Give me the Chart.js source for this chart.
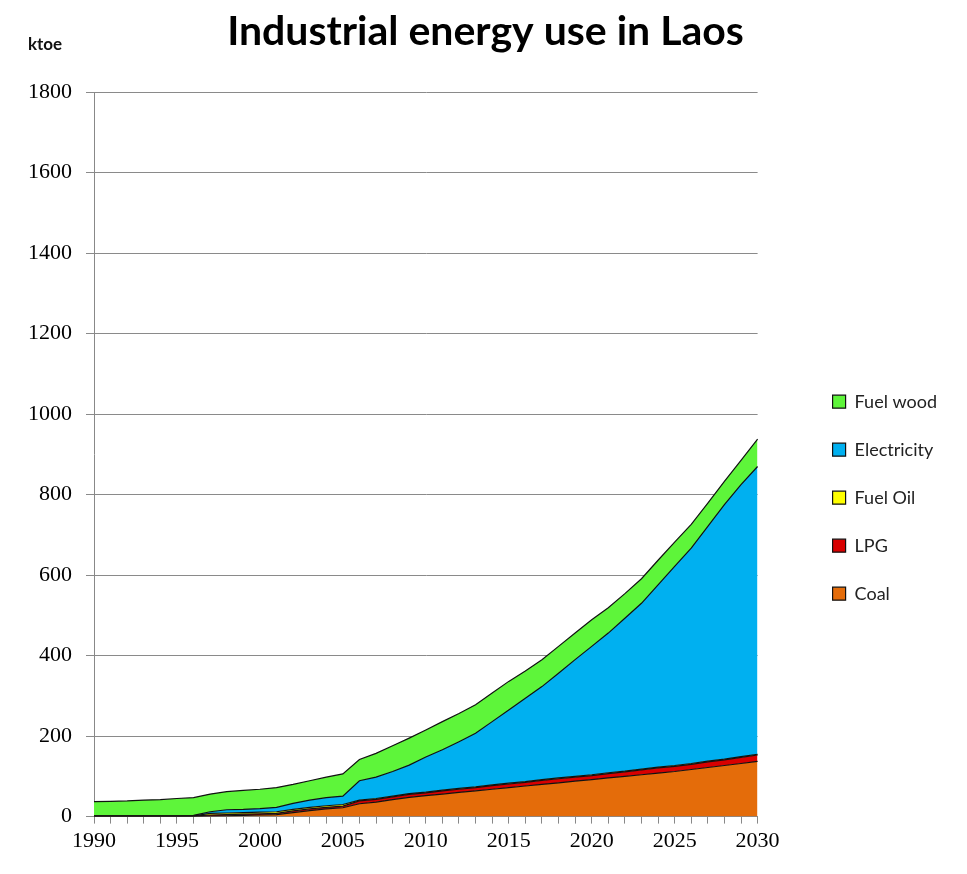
<!DOCTYPE html>
<html>
<head>
<meta charset="utf-8">
<script src="https://cdn.jsdelivr.net/npm/chart.js@4"></script>
<style>
  html, body { margin: 0; padding: 0; background: #fff; }
  #wrap { width: 967px; height: 874px; }
</style>
</head>
<body>
<div id="wrap"><canvas id="myChart" width="967" height="874"></canvas></div>
<script>
const years = [
  "1990", "1991", "1992", "1993", "1994", "1995", "1996", "1997", "1998", "1999",
  "2000", "2001", "2002", "2003", "2004", "2005", "2006", "2007", "2008", "2009",
  "2010", "2011", "2012", "2013", "2014", "2015", "2016", "2017", "2018", "2019",
  "2020", "2021", "2022", "2023", "2024", "2025", "2026", "2027", "2028", "2029", "2030",
];

// ktoe
const coal = [0, 0, 0, 0, 0, 0, 0, 1, 2, 3, 4, 5, 10, 15, 19, 22, 32, 36, 42, 48, 52,
  56, 60, 64, 68, 72, 76, 80, 84, 88, 92, 96, 100, 104, 108, 112, 117, 122, 127, 132, 137];
const lpg = [1, 1, 1, 1, 1, 1, 1, 3, 3, 3, 3, 3, 4, 4, 4, 4, 7, 7, 7, 7, 7,
  8, 8, 8, 9, 9, 9, 10, 10, 10, 10, 11, 11, 12, 13, 13, 13, 14, 14, 15, 16];
const fuelOil = [1, 1, 1, 1, 1, 1, 1, 4, 4, 4, 4, 4, 4, 4, 4, 4, 2, 2, 2, 2, 2,
  2, 2, 2, 2, 2, 2, 2, 2, 2, 2, 2, 2, 2, 2, 2, 2, 2, 2, 2, 2];
const electricity = [0, 0, 0, 0, 0, 0, 1, 4, 8, 8, 9, 11, 15, 18, 20, 21, 48, 53, 61, 71, 87,
  100, 116, 133, 157, 182, 207, 231, 260, 290, 319, 347, 380, 412, 453, 495, 535, 583, 632, 676, 715];
const fuelWood = [35, 36, 37, 39, 40, 43, 44, 44, 45, 47, 48, 49, 47, 48, 51, 55, 53, 59, 64, 67, 67,
  70, 70, 71, 71, 71, 68, 67, 67, 66, 66, 63, 61, 61, 61, 60, 59, 58, 58, 60, 68];

const yTicks = [0, 200, 400, 600, 800, 1000, 1200, 1400, 1600, 1800];

const series = [
  { label: "Coal", data: coal, color: "#e46c0a" },
  { label: "LPG", data: lpg, color: "#d80000" },
  { label: "Fuel Oil", data: fuelOil, color: "#ffff00" },
  { label: "Electricity", data: electricity, color: "#00b0f0" },
  { label: "Fuel wood", data: fuelWood, color: "#5ef53a" },
];

const tickFont = { family: "'Liberation Serif', serif", size: 22 };

// unit label above the y axis
const unitLabel = {
  id: "unitLabel",
  afterDraw(chart) {
    const ctx = chart.ctx;
    ctx.save();
    ctx.font = "bold 17px Lato, sans-serif";
    ctx.fillStyle = "#111";
    ctx.textAlign = "center";
    ctx.textBaseline = "middle";
    ctx.fillText("ktoe", 45, chart.chartArea.top - 48);
    ctx.restore();
  },
};

const data = {
  labels: years,
  datasets: series.map((s, i) => ({
    label: s.label,
    data: s.data,
    backgroundColor: s.color,
    borderColor: "#111",
    borderWidth: 1.2,
    pointRadius: 0,
    tension: 0,
    fill: i === 0 ? "origin" : "-1",
  })),
};

const config = {
  type: "line",
  data: data,
  options: {
    responsive: false,
    animation: false,
    layout: { padding: { left: 14, right: 20, top: 0, bottom: 16 } },
    plugins: {
      title: {
        display: true,
        // a leading space nudges the centred title a little to the right
        text: " Industrial energy use in Laos",
        color: "#000",
        font: { family: "Lato, sans-serif", size: 41, weight: "bold" },
        padding: { top: 7, bottom: 36 },
      },
      legend: {
        position: "right",
        reverse: true,
        title: { display: true, text: "", padding: { top: 123, bottom: 0 } },
        labels: {
          boxWidth: 13,
          boxHeight: 13,
          padding: 30,
          color: "#222",
          font: { family: "Lato, sans-serif", size: 18 },
        },
      },
      tooltip: { enabled: false },
    },
    scales: {
      x: {
        grid: { drawOnChartArea: false, color: "#888", tickLength: 7 },
        border: { color: "#888" },
        ticks: {
          autoSkip: false,
          maxRotation: 0,
          color: "#000",
          font: tickFont,
          padding: 4,
          callback: function (v, i) {
            return i % 5 === 0 ? years[i] : "";
          },
        },
      },
      y: {
        stacked: true,
        min: 0,
        max: 1800,
        afterBuildTicks: (scale) => {
          scale.ticks = yTicks.map((v) => ({ value: v }));
        },
        grid: { color: "#8a8a8a", tickLength: 8 },
        border: { color: "#888" },
        ticks: {
          color: "#000",
          font: tickFont,
          padding: 14,
          callback: (v) => String(v),
        },
      },
      gap: {
        position: "right",
        display: true,
        grid: { display: false },
        border: { display: false },
        ticks: { display: false },
        afterFit: (scale) => {
          scale.width = 45;
        },
      },
    },
  },
  plugins: [unitLabel],
};

const myChart = new Chart(document.getElementById("myChart"), config);
</script>
</body>
</html>
